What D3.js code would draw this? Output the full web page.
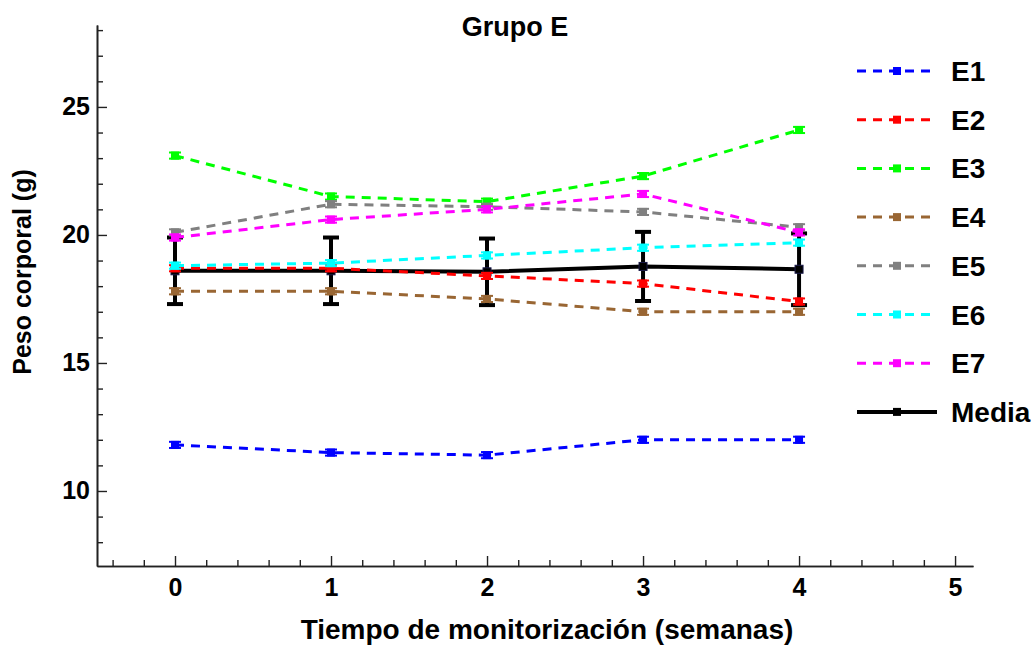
<!DOCTYPE html>
<html>
<head>
<meta charset="utf-8">
<script src="https://cdn.jsdelivr.net/npm/d3@7"></script>
<style>
  html, body { margin: 0; padding: 0; background: #fff; }
  svg { display: block; font-family: "Liberation Sans", Arial, sans-serif; }
</style>
</head>
<body>
<svg id="chart" width="1036" height="646"></svg>
<script>
// Weekly body weight (g) of the animals in group E
const weeks = [0, 1, 2, 3, 4];
const seriesNames = ["E1", "E2", "E3", "E4", "E5", "E6", "E7"];
const seriesColors = ["#0000ff", "#ff0000", "#00ff00", "#996633", "#808080", "#00ffff", "#ff00ff"];
const E1 = [11.8, 11.5, 11.4, 12.0, 12.0];
const E2 = [18.7, 18.7, 18.4, 18.1, 17.4];
const E3 = [23.1, 21.5, 21.3, 22.3, 24.1];
const E4 = [17.8, 17.8, 17.5, 17.0, 17.0];
const E5 = [20.1, 21.2, 21.1, 20.9, 20.3];
const E6 = [18.8, 18.9, 19.2, 19.5, 19.7];
const E7 = [19.9, 20.6, 21.0, 21.6, 20.1];
// measurement error of each individual weighing
const pointError = [0.12, 0.12, 0.12, 0.12, 0.12];
// group mean and standard error of the mean
const meanValues = [18.6, 18.6, 18.56, 18.77, 18.66];
const meanSEM = [1.3, 1.3, 1.3, 1.35, 1.4];

const xMajorTicks = [0, 1, 2, 3, 4, 5];
const yMajorTicks = [10, 15, 20, 25];

const titleText = "Grupo E";
const xLabelText = "Tiempo de monitorización (semanas)";
const yLabelText = "Peso corporal (g)";
const meanLabel = "Media";

const seriesValues = [E1, E2, E3, E4, E5, E6, E7];

const svg = d3.select("#chart");
const plotLeft = 97, plotRight = 973, plotTop = 25, plotBottom = 566;

const x = d3.scaleLinear().domain([-0.5, 5.115]).range([plotLeft, plotRight]);
const y = d3.scaleLinear().domain([7.07, 28.2]).range([plotBottom, plotTop]);

const xMinor = d3.range(-2, 26).map(d => d / 5).filter(d => Math.abs(d - Math.round(d)) > 1e-6);
const yMinor = d3.range(8, 29).filter(d => d % 5 !== 0);

const axisColor = "#222";
const fontFamily = "'Liberation Sans', Arial, sans-serif";
const tickFont = `bold 25px ${fontFamily}`;

// axes (ticks point into the plot)
const gx = svg.append("g").attr("transform", `translate(0,${plotBottom})`);
gx.call(d3.axisBottom(x).tickValues(xMajorTicks).tickSizeInner(-10).tickSizeOuter(0).tickPadding(12).tickFormat(d3.format("d")));
gx.append("g").call(d3.axisBottom(x).tickValues(xMinor).tickSizeInner(-6).tickSizeOuter(0).tickFormat(""));

const gy = svg.append("g").attr("transform", `translate(${plotLeft},0)`);
gy.call(d3.axisLeft(y).tickValues(yMajorTicks).tickSizeInner(-10).tickSizeOuter(0).tickPadding(7).tickFormat(d3.format("d")));
gy.append("g").call(d3.axisLeft(y).tickValues(yMinor).tickSizeInner(-6).tickSizeOuter(0).tickFormat(""));

svg.selectAll(".domain").attr("stroke", axisColor).attr("stroke-width", 1.6);
svg.selectAll(".tick line").attr("stroke", axisColor).attr("stroke-width", 1.4);
svg.selectAll(".tick text").style("font", tickFont).attr("fill", "#000");

// titles
svg.append("text").attr("x", 515).attr("y", 36).attr("text-anchor", "middle")
  .style("font", `bold 27px ${fontFamily}`).text(titleText);
svg.append("text").attr("x", 547).attr("y", 639).attr("text-anchor", "middle")
  .style("font", `bold 28px ${fontFamily}`).text(xLabelText);
svg.append("text").attr("transform", "translate(31,272) rotate(-90)").attr("text-anchor", "middle")
  .style("font", `bold 25px ${fontFamily}`).text(yLabelText);

const line = d3.line().x((d, i) => x(weeks[i])).y(d => y(d));
const plot = svg.append("g");

// mean with SEM error bars
const meanG = plot.append("g");
meanG.selectAll("line.err").data(meanValues).join("line")
  .attr("x1", (d, i) => x(weeks[i])).attr("x2", (d, i) => x(weeks[i]))
  .attr("y1", (d, i) => y(d - meanSEM[i])).attr("y2", (d, i) => y(d + meanSEM[i]))
  .attr("stroke", "#000").attr("stroke-width", 4);
[-1, 1].forEach(s => {
  meanG.selectAll(null).data(meanValues).join("line")
    .attr("x1", (d, i) => x(weeks[i]) - 8).attr("x2", (d, i) => x(weeks[i]) + 8)
    .attr("y1", (d, i) => y(d + s * meanSEM[i])).attr("y2", (d, i) => y(d + s * meanSEM[i]))
    .attr("stroke", "#000").attr("stroke-width", 4);
});
meanG.append("path").datum(meanValues).attr("d", line)
  .attr("fill", "none").attr("stroke", "#000").attr("stroke-width", 4);
meanG.selectAll("rect").data(meanValues).join("rect")
  .attr("x", (d, i) => x(weeks[i]) - 4).attr("y", d => y(d) - 4)
  .attr("width", 8).attr("height", 8).attr("fill", "#000").attr("stroke", "#1a1a4a").attr("stroke-width", 1);

// individual animals
seriesValues.forEach((vals, si) => {
  const c = seriesColors[si];
  const g = plot.append("g");
  g.append("path").datum(vals).attr("d", line)
    .attr("fill", "none").attr("stroke", c).attr("stroke-width", 3).attr("stroke-dasharray", "9,7");
  g.selectAll("line.v").data(vals).join("line")
    .attr("x1", (d, i) => x(weeks[i])).attr("x2", (d, i) => x(weeks[i]))
    .attr("y1", (d, i) => y(d - pointError[i])).attr("y2", (d, i) => y(d + pointError[i]))
    .attr("stroke", c).attr("stroke-width", 2);
  [-1, 1].forEach(s => {
    g.selectAll(null).data(vals).join("line")
      .attr("x1", (d, i) => x(weeks[i]) - 6).attr("x2", (d, i) => x(weeks[i]) + 6)
      .attr("y1", (d, i) => y(d + s * pointError[i])).attr("y2", (d, i) => y(d + s * pointError[i]))
      .attr("stroke", c).attr("stroke-width", 2);
  });
  g.selectAll("rect").data(vals).join("rect")
    .attr("x", (d, i) => x(weeks[i]) - 4).attr("y", d => y(d) - 4)
    .attr("width", 8).attr("height", 8).attr("fill", c);
});

// legend
const legend = svg.append("g");
const legendY0 = 71, legendStep = 48.7;
const legendItems = seriesNames.map((n, i) => ({ name: n, color: seriesColors[i], dashed: true }))
  .concat([{ name: meanLabel, color: "#000", dashed: false }]);
legendItems.forEach((it, i) => {
  const yy = legendY0 + i * legendStep;
  const g = legend.append("g").attr("transform", `translate(0,${yy})`);
  if (it.dashed) {
    g.append("line").attr("x1", 857).attr("x2", 931).attr("y1", 0).attr("y2", 0)
      .attr("stroke", it.color).attr("stroke-width", 3).attr("stroke-dasharray", "9,7");
  } else {
    g.append("line").attr("x1", 857).attr("x2", 937).attr("y1", 0).attr("y2", 0)
      .attr("stroke", it.color).attr("stroke-width", 4);
  }
  g.append("rect").attr("x", 893).attr("y", -4).attr("width", 8).attr("height", 8).attr("fill", it.color);
  g.append("text").attr("x", 951).attr("y", 10)
    .style("font", `bold 28px ${fontFamily}`).attr("fill", "#000").text(it.name);
});
</script>
</body>
</html>
